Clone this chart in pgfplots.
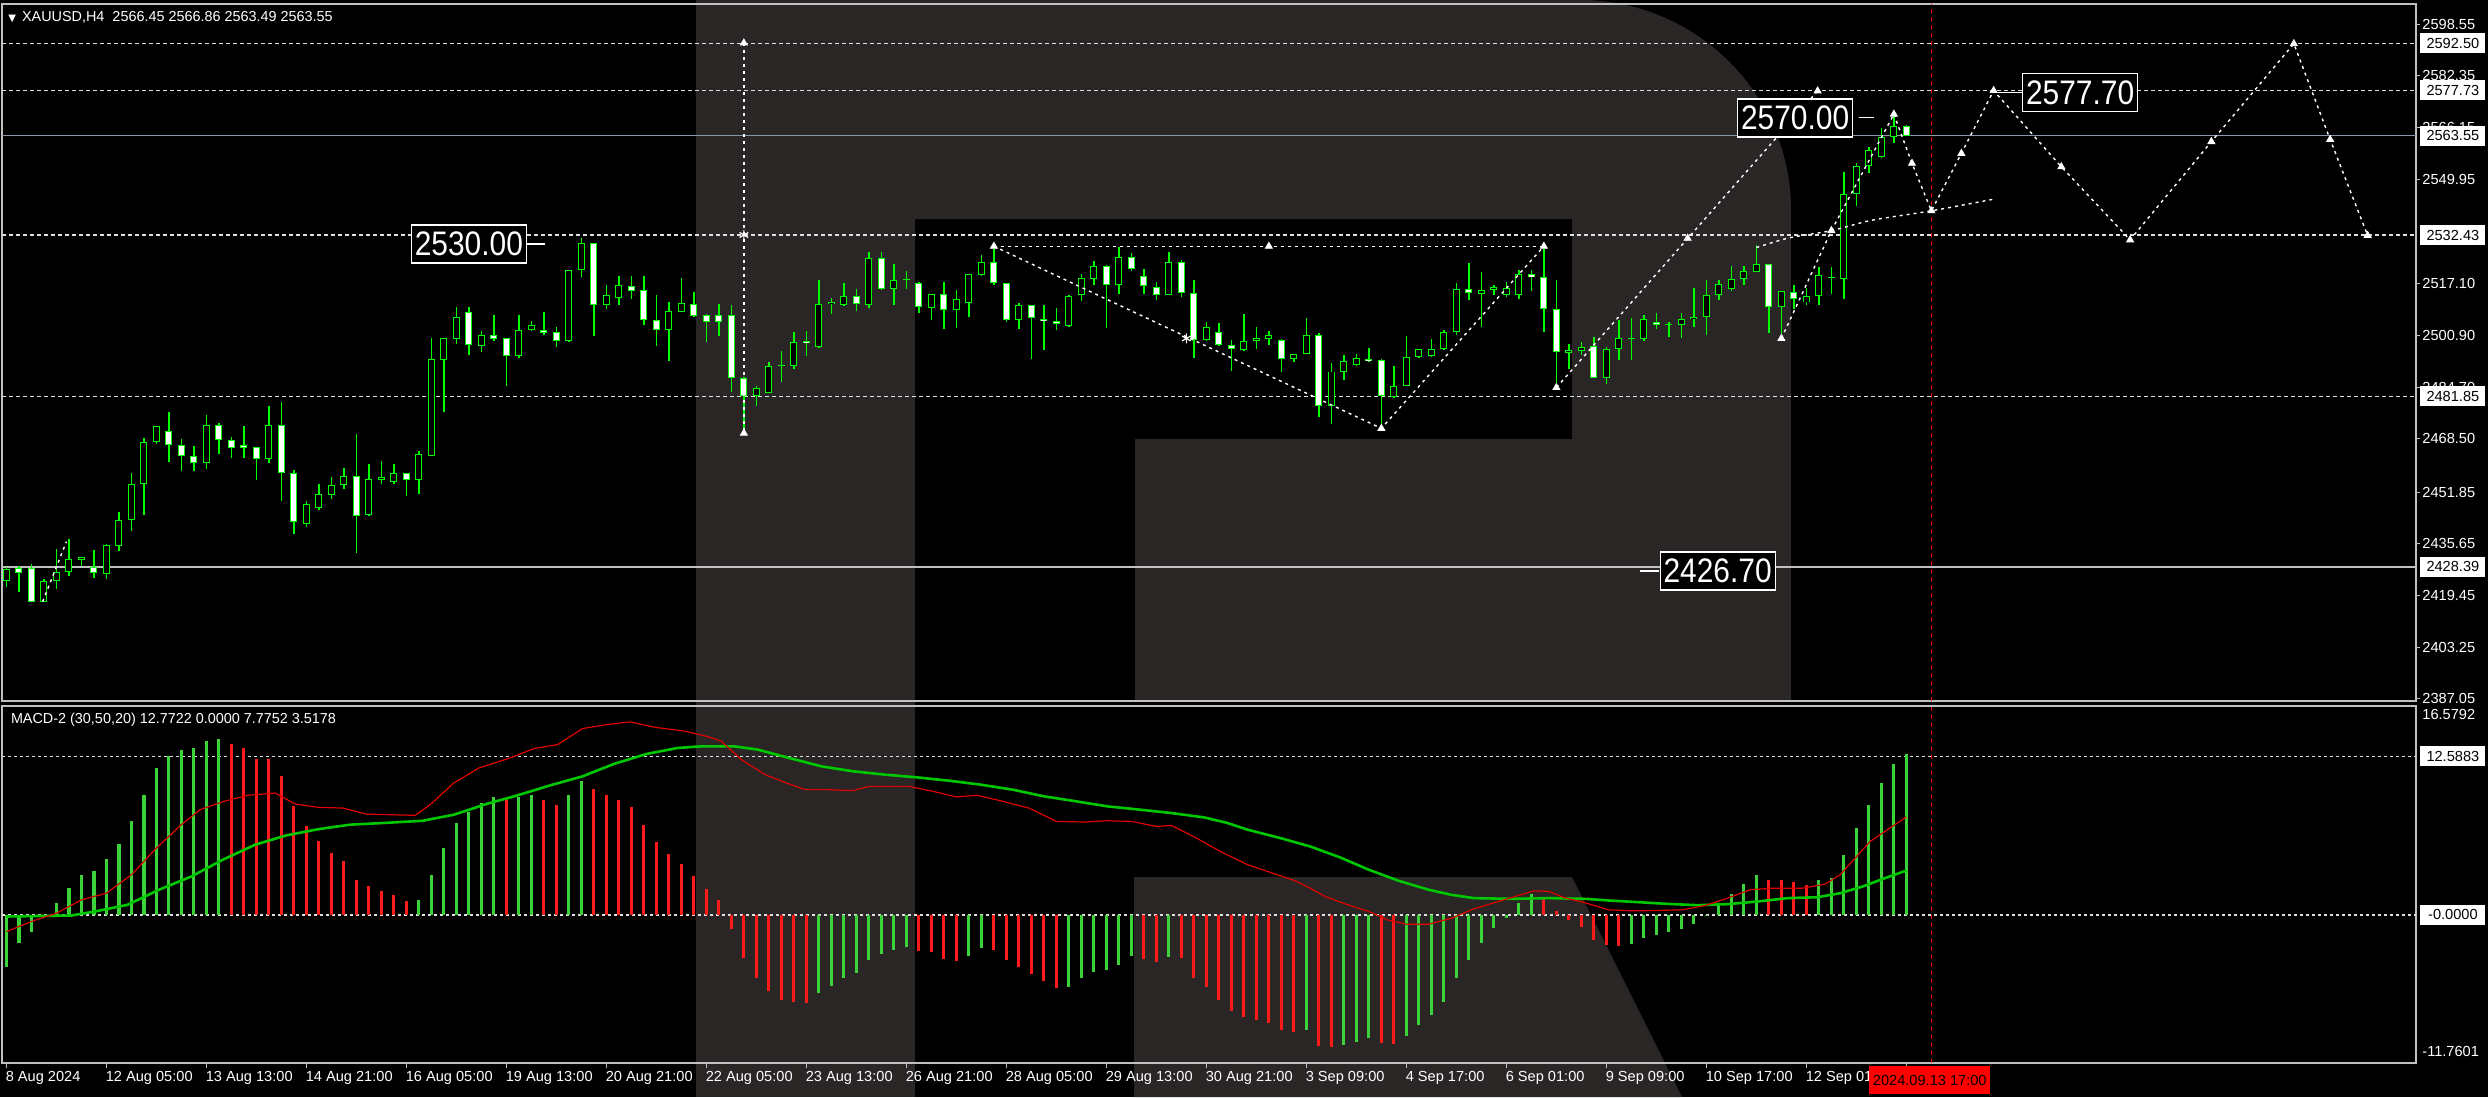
\documentclass[border=0pt]{standalone}
\usepackage{fontspec}
\setmainfont{Liberation Sans}
\newfontfamily\dejavu{DejaVu Sans}
\usepackage{graphicx}
\usepackage{pgfplots}
\usepackage{pgfplotstable}
\pgfplotsset{compat=1.18}

\definecolor{cgreen}{HTML}{00FF00}
\definecolor{bargreen}{HTML}{3CD23C}
\definecolor{barred}{HTML}{FF1A1A}
\definecolor{linered}{HTML}{E00000}
\definecolor{linegreen}{HTML}{00C800}
\definecolor{wm}{HTML}{2A2626}
\definecolor{framegray}{HTML}{C0C0C0}
\definecolor{bidgray}{HTML}{8A97A6}
\definecolor{dashc}{HTML}{E0E0E0}

\pgfplotstableread{
i o h l c
0 2424.07 2428.25 2421.98 2427.72
1 2427.93 2428.77 2420.41 2426.47
2 2427.93 2429.29 2417.27 2417.48
3 2417.48 2424.59 2417.27 2424.07
4 2424.07 2434.00 2421.46 2426.89
5 2426.89 2437.13 2425.63 2430.86
6 2430.65 2431.38 2428.77 2431.38
7 2428.46 2433.79 2424.80 2426.47
8 2426.15 2435.50 2424.59 2435.25
9 2435.04 2445.49 2433.47 2443.09
10 2443.09 2457.82 2439.74 2454.37
11 2454.37 2468.69 2444.66 2467.64
12 2467.64 2472.66 2466.91 2472.45
13 2471.09 2477.05 2461.17 2466.60
14 2466.60 2468.48 2458.55 2463.26
15 2463.26 2466.39 2458.55 2460.94
16 2460.94 2476.00 2459.07 2472.97
17 2472.97 2473.50 2463.78 2468.27
18 2468.27 2469.00 2462.42 2465.56
19 2466.70 2472.66 2462.42 2465.56
20 2465.87 2465.87 2455.73 2462.21
21 2462.21 2478.93 2460.94 2472.97
22 2472.97 2479.98 2449.15 2457.82
23 2457.82 2458.87 2438.70 2442.36
24 2441.83 2449.15 2440.79 2448.10
25 2446.74 2454.37 2446.33 2451.24
26 2450.92 2456.46 2449.67 2454.06
27 2454.06 2459.28 2452.80 2456.98
28 2456.98 2470.05 2432.74 2444.45
29 2444.66 2460.63 2444.45 2455.94
30 2455.73 2461.69 2454.37 2456.46
31 2455.10 2460.63 2454.37 2457.82
32 2457.82 2457.82 2450.72 2455.73
33 2455.73 2464.82 2451.24 2463.78
34 2463.26 2500.04 2463.05 2493.56
35 2493.35 2500.04 2477.05 2500.04
36 2499.83 2509.97 2498.26 2506.83
37 2508.19 2509.76 2494.81 2497.95
38 2497.74 2502.44 2495.86 2501.08
39 2501.08 2507.35 2499.31 2499.83
40 2500.04 2500.04 2484.99 2494.40
41 2494.40 2507.35 2493.77 2502.76
42 2502.65 2505.58 2502.44 2504.32
43 2502.76 2508.40 2501.08 2501.71
44 2501.92 2503.49 2497.22 2499.31
45 2499.31 2521.46 2498.79 2521.46
46 2521.46 2531.39 2519.16 2529.93
47 2529.93 2529.93 2500.88 2510.49
48 2510.49 2516.76 2509.23 2513.62
49 2512.58 2519.48 2510.49 2516.76
50 2516.34 2519.69 2512.37 2514.98
51 2515.19 2519.69 2504.22 2505.89
52 2505.89 2513.62 2497.74 2502.76
53 2502.76 2511.53 2492.83 2508.71
54 2508.40 2519.06 2508.19 2511.12
55 2510.80 2514.67 2506.62 2507.15
56 2507.35 2507.67 2498.79 2505.26
57 2507.35 2510.80 2500.88 2505.26
58 2507.35 2510.49 2483.11 2487.60
59 2487.60 2487.81 2470.57 2482.07
60 2482.07 2485.20 2478.93 2484.36
61 2482.90 2492.52 2482.90 2491.26
62 2491.26 2496.17 2486.45 2491.78
63 2491.47 2502.13 2490.42 2499.00
64 2499.18 2502.22 2494.46 2498.55
65 2497.29 2518.27 2496.98 2510.93
66 2510.83 2512.82 2507.79 2511.46
67 2510.62 2517.44 2510.20 2513.34
68 2513.34 2515.44 2508.62 2510.72
69 2510.62 2527.19 2509.57 2525.30
70 2525.30 2527.19 2515.13 2515.65
71 2515.65 2523.20 2510.62 2518.27
72 2518.27 2521.11 2515.65 2518.48
73 2517.23 2517.75 2508.10 2509.88
74 2509.67 2513.87 2505.69 2513.87
75 2513.87 2517.75 2503.06 2508.83
76 2508.83 2515.13 2503.27 2512.29
77 2511.25 2520.16 2506.74 2520.16
78 2519.85 2526.14 2519.64 2524.04
79 2524.04 2528.76 2516.70 2517.23
80 2517.23 2517.23 2505.16 2505.69
81 2505.69 2511.25 2502.85 2510.41
82 2510.41 2510.41 2493.41 2506.42
83 2506.21 2510.41 2496.25 2505.37
84 2505.37 2509.57 2502.54 2504.43
85 2503.90 2513.55 2503.59 2513.34
86 2513.55 2520.06 2511.67 2518.80
87 2518.59 2524.25 2516.91 2522.68
88 2522.68 2522.99 2503.27 2516.70
89 2516.70 2528.76 2514.08 2525.62
90 2525.62 2526.67 2521.11 2521.74
91 2519.64 2521.74 2514.08 2516.39
92 2516.18 2517.75 2511.98 2513.76
93 2513.55 2527.19 2513.55 2524.04
94 2524.04 2524.57 2513.03 2514.39
95 2514.39 2518.27 2493.83 2499.39
96 2499.39 2505.16 2499.08 2503.59
97 2502.02 2504.95 2497.61 2498.03
98 2498.03 2499.39 2489.95 2496.56
99 2496.25 2507.58 2495.93 2499.08
100 2499.08 2503.59 2496.77 2500.13
101 2499.92 2502.22 2497.82 2500.97
102 2499.60 2499.92 2489.64 2493.62
103 2493.41 2495.20 2492.57 2495.20
104 2495.20 2506.42 2494.99 2500.97
105 2500.97 2501.81 2475.27 2478.94
106 2478.94 2492.37 2473.17 2489.64
107 2489.64 2494.67 2487.12 2492.78
108 2491.74 2495.20 2491.31 2493.83
109 2493.62 2497.08 2492.57 2492.89
110 2493.10 2493.41 2472.12 2481.87
111 2481.56 2491.31 2481.25 2485.23
112 2485.23 2500.65 2485.02 2494.15
113 2494.15 2496.77 2493.83 2496.56
114 2494.46 2499.71 2494.15 2496.56
115 2496.56 2502.54 2496.25 2502.02
116 2502.02 2517.23 2500.97 2515.65
117 2515.65 2523.52 2511.98 2514.39
118 2514.08 2520.90 2503.59 2515.13
119 2515.13 2516.91 2513.55 2516.18
120 2513.76 2517.54 2513.03 2515.86
121 2513.76 2521.42 2512.50 2520.06
122 2520.27 2521.42 2514.81 2519.11
123 2519.11 2528.76 2502.02 2509.36
124 2509.36 2518.27 2485.02 2495.72
125 2495.51 2498.34 2490.48 2496.25
126 2496.00 2498.90 2494.71 2497.33
127 2497.65 2500.48 2487.59 2487.59
128 2487.59 2497.33 2485.81 2496.60
129 2496.60 2505.72 2493.14 2500.16
130 2500.16 2506.45 2493.14 2499.74
131 2499.74 2507.50 2499.11 2506.03
132 2505.19 2508.13 2503.10 2504.14
133 2504.14 2505.19 2500.48 2504.35
134 2504.14 2508.13 2500.16 2506.03
135 2506.03 2515.67 2503.62 2506.76
136 2506.76 2518.29 2501.00 2513.57
137 2513.57 2518.29 2512.00 2516.93
138 2515.46 2522.79 2514.83 2518.60
139 2518.60 2522.79 2516.72 2521.12
140 2520.91 2529.29 2520.91 2523.21
141 2523.21 2523.21 2501.84 2509.91
142 2509.91 2514.83 2500.48 2514.83
143 2514.62 2516.72 2509.38 2512.31
144 2511.27 2515.88 2510.43 2513.36
145 2513.36 2522.48 2510.64 2519.86
146 2519.02 2522.48 2513.78 2518.81
147 2518.60 2552.13 2512.52 2545.22
148 2545.22 2554.96 2541.65 2553.91
149 2553.91 2559.89 2551.82 2558.94
150 2556.74 2565.96 2556.53 2563.03
151 2563.03 2571.20 2561.25 2566.49
152 2566.45 2566.86 2563.49 2563.55
}\candles

\newcommand{\axf}{\fontsize{7.3}{8}\selectfont}

\begin{document}
\begin{tikzpicture}
\fill[black] (0,0) rectangle (1244pt,-548.5pt);
\begin{scope}[x=0.5pt,y=-0.5pt]
\fill[wm] (696,0) rectangle (915,1097);
\fill[wm] (915,0) -- (1580,0) .. controls (1696,0) and (1791,94) .. (1791,210) -- (1791,701) -- (1135,701) -- (1135,439) -- (1572,439) -- (1572,219) -- (915,219) -- cycle;
\fill[wm] (1134,877) -- (1572,877) -- (1682,1097) -- (1134,1097) -- cycle;
\end{scope}

% ---------------- main price panel ----------------
\begin{axis}[
  at={(1pt,-350.5pt)}, anchor=south west, scale only axis,
  width=1207pt, height=348.5pt,
  xmin=-0.352, xmax=192.77, ymin=2386.35, ymax=2604.84,
  axis line style={framegray, line width=0.75pt},
  xtick=\empty,
  ytick={2598.55,2582.35,2566.15,2549.95,2517.10,2500.90,2484.70,2468.50,2451.85,2435.65,2419.45,2403.25,2387.05},
  yticklabels={2598.55,2582.35,2566.15,2549.95,2517.10,2500.90,2484.70,2468.50,2451.85,2435.65,2419.45,2403.25,2387.05},
  ytick pos=right, yticklabel pos=right,
  tick align=outside, major tick length=2pt,
  tick style={framegray, line width=0.5pt},
  yticklabel style={font=\axf, text=white, anchor=west, inner sep=0pt, xshift=1pt},
  clip mode=individual,
]
% horizontal levels
\addplot[dashc, line width=0.75pt, dash pattern=on 2pt off 1.5pt] coordinates {(-0.352,2592.50) (192.77,2592.50)};
\addplot[dashc, line width=0.75pt, dash pattern=on 2pt off 1.5pt] coordinates {(-0.352,2577.73) (192.77,2577.73)};
\addplot[dashc, line width=0.75pt, dash pattern=on 2pt off 1.5pt] coordinates {(-0.352,2532.43) (192.77,2532.43)};
\addplot[dashc, line width=0.75pt, dash pattern=on 2pt off 1.5pt] coordinates {(-0.352,2481.85) (192.77,2481.85)};
\addplot[bidgray, line width=0.75pt] coordinates {(-0.352,2563.55) (192.77,2563.55)};
\addplot[framegray, line width=0.9pt] coordinates {(-0.352,2428.39) (192.77,2428.39)};
\addplot[red, line width=0.75pt, dash pattern=on 2pt off 2pt] coordinates {(154,2386.35) (154,2604.84)};

% candles: wicks
\addplot[draw=none, forget plot, error bars/.cd, y dir=plus, y explicit, error mark=none,
  error bar style={draw=cgreen, solid, line width=0.75pt}]
  table[x=i, y=l, y error expr={\thisrow{h}-\thisrow{l}}] {\candles};
% bodies outline
\addplot[draw=none, forget plot, error bars/.cd, y dir=plus, y explicit, error mark=none,
  error bar style={draw=cgreen, solid, line width=3.5pt}]
  table[x=i, y expr={min(\thisrow{o},\thisrow{c})}, y error expr={max(abs(\thisrow{c}-\thisrow{o}),0.35)}] {\candles};
% bull bodies (black)
\addplot[draw=none, forget plot, error bars/.cd, y dir=plus, y explicit, error mark=none,
  error bar style={draw=black, solid, line width=2.5pt}]
  table[x=i, y expr={\thisrow{o}+0.31}, y error expr={max(\thisrow{c}-\thisrow{o}-0.62,0)}] {\candles};
% bear bodies (white)
\addplot[draw=none, forget plot, error bars/.cd, y dir=plus, y explicit, error mark=none,
  error bar style={draw=white, solid, line width=2.5pt}]
  table[x=i, y expr={\thisrow{c}+0.31}, y error expr={max(\thisrow{o}-\thisrow{c}-0.62,0)}] {\candles};

% analysis overlay
\addplot[white, line width=0.7pt, dash pattern=on 1.5pt off 2pt] coordinates {(59,2592.6) (59,2470.3)};
\addplot[white, line width=0.7pt, dash pattern=on 1.5pt off 2pt] coordinates {(79,2528.9) (123,2528.9)};
\addplot[white, line width=0.7pt, dash pattern=on 1.5pt off 2pt] coordinates {(79,2528.9) (110,2471.8) (123,2528.9)};
\addplot[white, line width=0.7pt, dash pattern=on 1.5pt off 2pt] coordinates {(124,2484.6) (144.9,2577.6)};
\addplot[white, line width=0.7pt, dash pattern=on 1.5pt off 2pt] coordinates {(142,2500.0) (146,2533.8) (151,2570.3)};
\addplot[white, line width=0.7pt, dash pattern=on 1.5pt off 2pt, smooth] coordinates {(140,2528.5) (142.6,2531.5) (146,2533.8) (149.3,2537.1) (154,2540.0) (158.9,2543.6)};
\addplot[white, line width=0.7pt, dash pattern=on 1.5pt off 2pt] coordinates {(151,2570.3) (152.45,2554.9) (154,2540.0) (156.4,2558.0) (158.98,2577.7) (164.4,2553.8) (169.9,2530.9) (176.4,2561.7) (183,2592.4) (185.9,2562.4) (188.9,2532.3)};
\addplot[white, line width=0.7pt, dash pattern=on 1.5pt off 2pt] coordinates {(2.9,2417.5) (4.8,2436.3)};
\addplot[only marks, mark=triangle*, mark size=2pt, white] coordinates {(59,2592.6) (59,2470.3) (79,2528.9) (101,2528.9) (123,2528.9) (110,2471.8) (124,2484.6) (134.5,2531.4) (144.9,2577.6) (142,2500.0) (146,2533.8) (151,2570.3) (152.45,2554.9) (154,2540.0) (156.4,2558.0) (158.98,2577.7) (164.4,2553.8) (169.9,2530.9) (176.4,2561.7) (183,2592.4) (185.9,2562.4) (188.9,2532.3)};
\addplot[only marks, mark=asterisk, mark size=2.5pt, white, line width=0.6pt] coordinates {(59,2532.43) (94.4,2500.0)};

% big labels
\draw[white, line width=0.6pt] (axis cs:41.6,2529.6) -- (axis cs:43.1,2529.6);
\node[draw=white, fill=black, text=white, line width=0.6pt, inner sep=0pt, minimum width=57.5pt, minimum height=19pt, font=\fontsize{17}{17}\selectfont] at (axis cs:37.0,2529.6) {\scalebox{0.88}[1]{2530.00}};
\draw[white, line width=0.6pt] (axis cs:148.2,2569.2) -- (axis cs:149.4,2569.2);
\node[draw=white, fill=black, text=white, line width=0.6pt, inner sep=0pt, minimum width=57.5pt, minimum height=19pt, font=\fontsize{17}{17}\selectfont] at (axis cs:143.1,2569.1) {\scalebox{0.88}[1]{2570.00}};
\draw[white, line width=0.6pt] (axis cs:159.0,2577.2) -- (axis cs:161.3,2577.2);
\node[draw=white, fill=black, text=white, line width=0.6pt, inner sep=0pt, minimum width=57.5pt, minimum height=19pt, font=\fontsize{17}{17}\selectfont] at (axis cs:165.9,2577.0) {\scalebox{0.88}[1]{2577.70}};
\draw[white, line width=0.6pt] (axis cs:130.7,2427.1) -- (axis cs:132.2,2427.1);
\node[draw=white, fill=black, text=white, line width=0.6pt, inner sep=0pt, minimum width=57.5pt, minimum height=19pt, font=\fontsize{17}{17}\selectfont] at (axis cs:136.9,2427.1) {\scalebox{0.88}[1]{2426.70}};

\coordinate (r1) at (axis cs:192.77,2592.50);
\coordinate (r2) at (axis cs:192.77,2577.73);
\coordinate (r3) at (axis cs:192.77,2563.55);
\coordinate (r4) at (axis cs:192.77,2532.43);
\coordinate (r5) at (axis cs:192.77,2481.85);
\coordinate (r6) at (axis cs:192.77,2428.39);
\end{axis}

% ---------------- MACD panel ----------------
\begin{axis}[
  at={(1pt,-531.5pt)}, anchor=south west, scale only axis,
  width=1207pt, height=178.5pt,
  xmin=-0.352, xmax=192.77, ymin=-11.7601, ymax=16.5792,
  axis line style={framegray, line width=0.75pt},
  ytick=\empty,
  xtick={0,8,16,24,32,40,48,56,64,72,80,88,96,104,112,120,128,136,144,152},
  xticklabels={8 Aug 2024,12 Aug 05:00,13 Aug 13:00,14 Aug 21:00,16 Aug 05:00,19 Aug 13:00,20 Aug 21:00,22 Aug 05:00,23 Aug 13:00,26 Aug 21:00,28 Aug 05:00,29 Aug 13:00,30 Aug 21:00,3 Sep 09:00,4 Sep 17:00,6 Sep 01:00,9 Sep 09:00,10 Sep 17:00,12 Sep 01:00,},
  xtick pos=bottom, tick align=outside, major tick length=2.5pt,
  tick style={framegray, line width=0.5pt},
  xticklabel style={font=\axf, text=white, anchor=north west, inner sep=0pt, yshift=-1.5pt, xshift=-0.5pt},
  clip mode=individual,
]
\addplot[dashc, line width=0.75pt, dash pattern=on 1.5pt off 1.5pt] coordinates {(-0.352,0) (192.77,0)};
\addplot[dashc, line width=0.75pt, dash pattern=on 1.5pt off 1.5pt] coordinates {(-0.352,12.5883) (192.77,12.5883)};
\addplot[red, line width=0.75pt, dash pattern=on 2pt off 2pt] coordinates {(154,-11.7601) (154,16.5792)};

\addplot[ycomb, bargreen, line width=1.6pt, mark=none] coordinates {(0,-4.10) (1,-2.25) (2,-1.33) (3,-0.20) (4,0.93) (5,2.17) (6,3.18) (7,3.52) (8,4.43) (9,5.65) (10,7.42) (11,9.49) (12,11.66) (13,12.59) (14,13.12) (15,13.25) (16,13.84) (17,13.97) (33,1.19) (34,3.18) (35,5.30) (36,7.29) (37,8.14) (38,8.88) (39,9.36) (41,9.38) (42,9.54) (45,9.54) (46,10.65) (65,-6.23) (66,-5.62) (67,-5.04) (68,-4.64) (69,-3.58) (70,-3.13) (71,-2.78) (72,-2.52) (77,-3.23) (78,-2.65) (85,-5.70) (86,-5.04) (87,-4.51) (88,-4.37) (89,-3.98) (90,-3.23) (93,-3.31) (104,-9.14) (107,-10.34) (108,-10.07) (109,-9.75) (112,-9.59) (113,-8.75) (114,-7.95) (115,-6.89) (116,-4.98) (117,-3.58) (118,-2.25) (119,-1.06) (120,-0.27) (121,0.93) (122,1.64) (130,-2.33) (131,-1.86) (132,-1.59) (133,-1.33) (134,-1.11) (135,-0.74) (136,-0.05) (137,0.80) (138,1.64) (139,2.44) (140,3.18) (145,2.78) (146,2.92) (147,4.77) (148,6.89) (149,8.75) (150,10.47) (151,11.98) (152,12.77)};
\addplot[ycomb, barred, line width=1.6pt, mark=none] coordinates {(18,13.60) (19,13.25) (20,12.38) (21,12.38) (22,11.00) (23,8.67) (24,7.02) (25,5.88) (26,4.90) (27,4.29) (28,2.78) (29,2.33) (30,1.86) (31,1.54) (32,1.11) (40,9.20) (43,9.14) (44,8.75) (47,10.02) (48,9.54) (49,9.14) (50,8.53) (51,7.16) (52,5.78) (53,4.82) (54,4.06) (55,3.05) (56,2.07) (57,1.19) (58,-1.11) (59,-3.39) (60,-4.98) (61,-6.04) (62,-6.76) (63,-6.89) (64,-7.02) (73,-2.86) (74,-2.97) (75,-3.50) (76,-3.63) (79,-2.78) (80,-3.58) (81,-4.11) (82,-4.72) (83,-5.25) (84,-5.83) (91,-3.50) (92,-3.71) (94,-3.45) (95,-4.98) (96,-5.70) (97,-6.76) (98,-7.63) (99,-8.08) (100,-8.35) (101,-8.61) (102,-9.14) (103,-9.33) (105,-10.39) (106,-10.47) (110,-10.20) (111,-10.28) (123,1.38) (124,0.27) (125,-0.40) (126,-0.93) (127,-1.99) (128,-2.39) (129,-2.45) (141,2.78) (142,2.78) (143,2.60) (144,2.39)};

\addplot[linegreen, line width=1.3pt] coordinates {(0,-0.13) (5.2,-0.05) (7.1,0.27) (9.7,0.80) (12.2,1.99) (14.8,3.05) (17.3,4.37) (19.9,5.57) (22.4,6.31) (25,6.81) (27.5,7.16) (30.1,7.29) (33.3,7.47) (35.8,7.95) (38.4,8.80) (40.9,9.49) (43.5,10.28) (46.1,11.00) (48.6,11.98) (51.2,12.77) (53.7,13.25) (55.6,13.38) (58.2,13.38) (60.1,13.12) (62.6,12.46) (65.2,11.79) (67.7,11.40) (70.3,11.13) (72.8,10.92) (75.4,10.65) (77.9,10.34) (80.5,9.94) (83,9.41) (85.6,9.01) (88.1,8.61) (90.7,8.35) (93.2,8.08) (95.8,7.74) (97.7,7.29) (99.3,6.76) (101.9,6.10) (104.3,5.43) (106.7,4.56) (109,3.58) (111.4,2.70) (113.8,1.99) (115.6,1.59) (117.4,1.33) (120.4,1.27) (123.4,1.33) (126.4,1.27) (128.2,1.14) (130.5,1.01) (132.9,0.87) (135.3,0.77) (137.7,0.85) (140.1,1.06) (142.5,1.33) (144.9,1.40) (146.7,1.72) (148.5,2.25) (150.3,2.92) (152,3.5178)};
\addplot[linered, line width=0.6pt] coordinates {(0,-1.33) (2,-0.53) (4,0.13) (6,1.19) (8,1.72) (10,3.18) (12,5.30) (14,7.16) (15.5,8.35) (17.4,9.01) (19.3,9.49) (21.5,9.67) (23.1,8.80) (25,8.53) (26.9,8.48) (28.8,8.00) (30.7,7.95) (32.7,7.90) (33.9,8.75) (35.8,10.47) (37.8,11.66) (40.3,12.46) (42.2,13.20) (44.1,13.52) (46.1,14.79) (48,15.10) (49.9,15.32) (51.8,14.90) (54.3,14.58) (56.3,14.10) (57.2,13.78) (58.8,12.32) (60.7,11.13) (62.6,10.39) (63.9,9.94) (65.8,9.94) (67.7,9.86) (69,10.20) (72.2,10.20) (74.1,9.81) (76,9.36) (77.6,9.49) (79.2,9.14) (81.8,8.48) (84,7.42) (86.2,7.37) (88.1,7.47) (90,7.42) (92,7.02) (93.2,7.10) (95.2,6.10) (97.1,5.04) (99.3,3.98) (101.3,3.31) (103.1,2.70) (104.3,2.12) (105.5,1.46) (107.3,0.80) (109,0.27) (110.5,-0.40) (112,-0.74) (113.8,-0.74) (115.6,-0.27) (117.4,0.48) (119.2,1.01) (120.7,1.46) (122.2,1.91) (123.4,1.86) (124.6,1.38) (126.4,0.93) (128.2,0.40) (130,0.32) (131.7,0.34) (134.1,0.40) (135.9,0.74) (137.7,1.33) (139.5,1.99) (141.3,2.12) (143.7,2.12) (145.5,2.44) (146.7,3.18) (147.9,4.50) (149.1,5.83) (150.3,6.63) (152,7.7752)};

\coordinate (m1) at (axis cs:192.77,12.5883);
\coordinate (m2) at (axis cs:192.77,0);
\coordinate (mtop) at (rel axis cs:1,1);
\coordinate (mbot) at (rel axis cs:1,0);
\coordinate (dlab) at (axis cs:149,-11.7601);
\end{axis}

% right-hand boxed price labels
\foreach \n/\t in {r1/2592.50, r2/2577.73, r3/2563.55, r4/2532.43, r5/2481.85, r6/2428.39, m1/12.5883, m2/-0.0000}
  \node[fill=white, text=black, anchor=west, inner sep=0pt, minimum width=32.5pt, minimum height=10pt, font=\axf, xshift=2pt] at (\n) {\t};
\node[text=white, anchor=north west, inner sep=0pt, font=\axf, xshift=3pt, yshift=-1.5pt] at (mtop) {16.5792};
\node[text=white, anchor=south west, inner sep=0pt, font=\axf, xshift=3pt, yshift=3pt] at (mbot) {-11.7601};
% current-time label
\node[fill=red, text=black, anchor=north west, inner sep=0pt, minimum width=60.5pt, minimum height=14pt, font=\axf, yshift=-1.5pt] at (dlab) {2024.09.13 17:00};

% titles
\node[anchor=west, text=white, inner sep=0pt, font=\fontsize{7.2}{8}\selectfont] at (4pt,-8.5pt) {{\dejavu\fontsize{5}{6}\selectfont ▼}\hspace{3pt}XAUUSD,H4\ \ 2566.45 2566.86 2563.49 2563.55};
\node[anchor=west, text=white, inner sep=0pt, font=\fontsize{7.2}{8}\selectfont] at (5.3pt,-360pt) {MACD-2 (30,50,20) 12.7722 0.0000 7.7752 3.5178};

\pgfresetboundingbox
\useasboundingbox (0,0) rectangle (1244pt,-548.5pt);
\end{tikzpicture}
\end{document}
